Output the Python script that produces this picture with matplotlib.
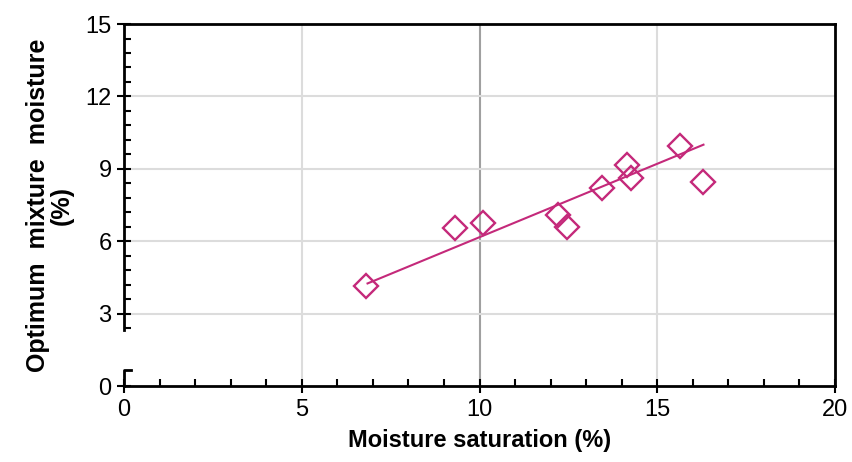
import numpy as np
import matplotlib
matplotlib.use("Agg")
import matplotlib.pyplot as plt
from matplotlib.ticker import MultipleLocator, FixedLocator

plt.rcParams['font.family'] = ['Liberation Sans', 'DejaVu Sans']

# measured points
saturation = [6.8, 9.3, 10.1, 12.2, 12.45, 13.45, 14.15, 14.25, 15.65, 16.3]
optimum = [4.15, 6.55, 6.75, 7.1, 6.6, 8.2, 9.15, 8.6, 9.95, 8.45]

# trend line end points
trend_x = [6.85, 16.3]
trend_y = [4.25, 10.0]

pink = "#c4297a"

fig = plt.figure(figsize=(8.53, 4.62), dpi=100)
ax = fig.add_axes([0.1454, 0.1645, 0.8335, 0.7835])

ax.set_xlim(0, 20)
ax.set_ylim(0, 15)

# grid
for gx in [5, 15]:
    ax.axvline(gx, color="#dcdcdc", lw=1.5, zorder=0)
ax.axvline(10, color="#a0a0a0", lw=1.5, zorder=0)
for gy in [3, 6, 9, 12]:
    ax.axhline(gy, color="#dcdcdc", lw=1.5, zorder=0)

ax.plot(trend_x, trend_y, color=pink, lw=1.5, zorder=2)
ax.plot(saturation, optimum, linestyle='None', marker="D", markersize=12,
        markerfacecolor="none", markeredgecolor=pink, markeredgewidth=1.7, zorder=3)

ax.xaxis.set_major_locator(MultipleLocator(5))
ax.xaxis.set_minor_locator(MultipleLocator(1))
ax.yaxis.set_major_locator(MultipleLocator(3))
ax.yaxis.set_minor_locator(FixedLocator(np.arange(2.4, 15, 0.6)))

ax.tick_params(which="major", direction="inout", length=10, width=1.5,
               labelsize=17, pad=4)
ax.tick_params(which="minor", direction="in", length=5, width=1.5)

for s in ax.spines.values():
    s.set_linewidth(2)
ax.spines["left"].set_bounds(2.3, 15)
# broken y axis stub near zero
ax.plot([0, 0, 0.2], [0, 0.65, 0.65], color="black", lw=2, clip_on=False, zorder=4)

ax.set_xlabel("Moisture saturation (%)", fontsize=17, fontweight="bold", labelpad=6)
ax.set_ylabel("Optimum  mixture  moisture\n(%)", fontsize=18, fontweight="bold",
              labelpad=8, linespacing=1.0)

fig.savefig("out.png", dpi=100)
